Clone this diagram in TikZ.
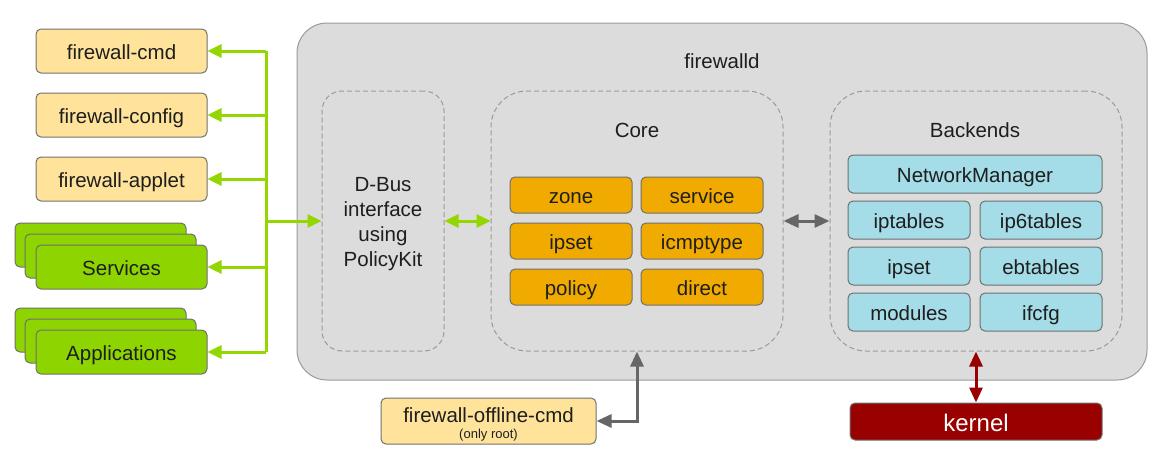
\documentclass[tikz,border=0pt]{standalone}
\usepackage{fontspec}
\setmainfont{Liberation Sans}
\usetikzlibrary{arrows.meta,positioning}
\definecolor{ylight}{HTML}{FFE39B}
\definecolor{fgreen}{HTML}{8ED400}
\definecolor{agreen}{HTML}{94D600}
\definecolor{corange}{HTML}{F0AA00}
\definecolor{bblue}{HTML}{A4DCE8}
\definecolor{bggray}{HTML}{DCDCDC}
\definecolor{bgborder}{HTML}{9A9A9A}
\definecolor{boxborder}{HTML}{707070}
\definecolor{agray}{HTML}{666666}
\definecolor{kred}{HTML}{990000}
\definecolor{txt}{HTML}{1E1E1E}
\tikzset{
  x=1pt, y=-1pt,
  basebox/.style={draw=boxborder, line width=1pt, rounded corners=5pt, inner sep=0pt, text=txt,
    font=\fontsize{20.5}{24}\selectfont, text height=19pt, text depth=3pt},
  ybox/.style={basebox, fill=ylight, minimum width=171pt, minimum height=44pt},
  gbox/.style={basebox, fill=fgreen, minimum width=171pt, minimum height=44pt},
  obox/.style={basebox, fill=corange, minimum width=122pt, minimum height=36pt},
  bbox/.style={basebox, fill=bblue, minimum width=122pt, minimum height=38pt},
  dashbox/.style={draw=bgborder, dashed, dash pattern=on 5pt off 3pt, line width=1pt, inner sep=0pt},
  lbl/.style={inner sep=0pt, text=txt, font=\fontsize{20.5}{24}\selectfont},
  garrow/.style={draw=agreen, line width=3pt, {Triangle[length=14pt,width=13pt]}-},
  gdarrow/.style={draw=agreen, line width=3pt, {Triangle[length=14pt,width=13pt]}-{Triangle[length=14pt,width=13pt]}},
  grayarrow/.style={draw=agray, line width=3pt, {Triangle[length=15pt,width=13pt]}-{Triangle[length=15pt,width=13pt]}},
  redarrow/.style={draw=kred, line width=3pt, {Triangle[length=15pt,width=13pt]}-{Triangle[length=15pt,width=13pt]}},
}
\begin{document}
\begin{tikzpicture}
\useasboundingbox (0,0) rectangle (1165,463);
% main firewalld box
\node[draw=bgborder, fill=bggray, line width=1pt, rounded corners=30pt, minimum width=850pt, minimum height=357pt, inner sep=0pt] (fwd) at (722,201.5) {};
\node[lbl] (fwdlbl) at (722,61) {firewalld};
% dashed containers
\node[dashbox, rounded corners=20pt, minimum width=122pt, minimum height=260pt] (dbus) at (383,221) {};
\node[lbl, align=center, font=\fontsize{20.5}{25}\selectfont] (dbuslbl) at (383,224) {D-Bus\\interface\\using\\PolicyKit};
\node[dashbox, rounded corners=36pt, minimum width=292pt, minimum height=260pt] (core) at (637,221) {};
\node[lbl] (corelbl) at (637,130) {Core};
\node[dashbox, rounded corners=36pt, minimum width=292pt, minimum height=260pt] (back) at (976,221) {};
\node[lbl] (backlbl) at (975,130) {Backends};
% core items
\node[obox] (zone) at (571,195) {zone};
\node[obox] (service) at (702,195) {service};
\node[obox] (ipset) at (571,241) {ipset};
\node[obox] (icmp) at (702,241) {icmptype};
\node[obox] (policy) at (571,287) {policy};
\node[obox] (direct) at (702,287) {direct};
% backend items
\node[bbox, minimum width=254pt] (nm) at (975,174) {NetworkManager};
\node[bbox] (ipt) at (909,220) {iptables};
\node[bbox] (ip6t) at (1041,220) {ip6tables};
\node[bbox] (bipset) at (909,266) {ipset};
\node[bbox] (ebt) at (1041,266) {ebtables};
\node[bbox] (mods) at (909,312) {modules};
\node[bbox] (ifcfg) at (1041,312) {ifcfg};
% left clients
\node[ybox] (cmd) at (121.5,51) {firewall-cmd};
\node[ybox] (config) at (121.5,115) {firewall-config};
\node[ybox] (applet) at (121.5,179) {firewall-applet};
\node[gbox] (svcback) at (100.5,245) {};
\node[gbox] (svcmid) at (110.5,256) {};
\node[gbox] (svc) at (121.5,267) {Services};
\node[gbox] (appback) at (100.5,330) {};
\node[gbox] (appmid) at (110.5,341) {};
\node[gbox] (apps) at (121.5,352) {Applications};
% offline cmd and kernel
\node[basebox, fill=ylight, minimum width=215pt, minimum height=46pt] (offline) at (488.5,421) {};
\node[lbl] (offl1) at (488.5,415) {firewall-offline-cmd};
\node[lbl, font=\fontsize{13}{14}\selectfont] (offl2) at (488.5,435.5) {(only root)};
\node[basebox, fill=kred, text=white, minimum width=252pt, minimum height=37pt, font=\fontsize{24}{28}\selectfont, text height=21pt, text depth=2pt] (kernel) at (976,421.5) {kernel};
% green bus
\coordinate (bus) at (266,221);
\draw[agreen, line width=3pt] (bus |- cmd.east) -- (bus |- apps.east);
\draw[garrow] (cmd.east) -- (bus |- cmd.east);
\draw[garrow] (config.east) -- (bus |- config.east);
\draw[garrow] (applet.east) -- (bus |- applet.east);
\draw[garrow] (svc.east) -- (bus |- svc.east);
\draw[garrow] (apps.east) -- (bus |- apps.east);
\draw[garrow] (dbus.west) -- (bus);
% inner connectors
\draw[gdarrow] (dbus.east) -- (core.west);
\draw[grayarrow] (core.east) -- (back.west);
\draw[grayarrow] (core.south) |- (offline.east);
\draw[redarrow] (back.south) -- (kernel.north);
\end{tikzpicture}
\end{document}
